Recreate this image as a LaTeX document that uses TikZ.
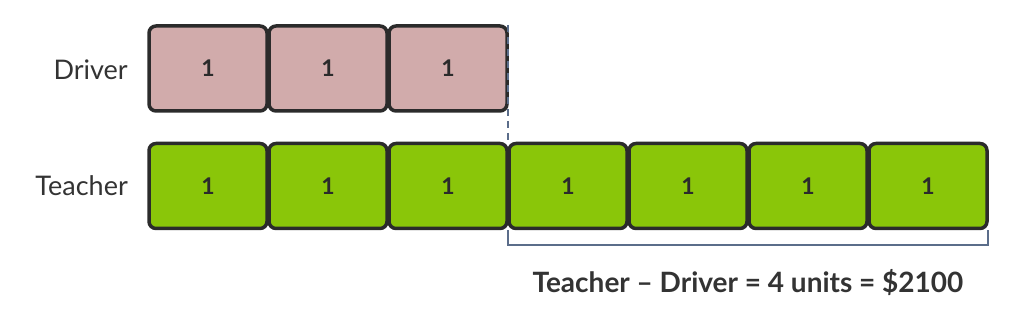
\documentclass[tikz,border=0pt]{standalone}
\usepackage{fontspec}
\setmainfont{Lato}
\begin{document}
\begin{tikzpicture}[x=1pt,y=-1pt,
  unitbox/.style={draw=boxline,line width=3.5pt,rounded corners=7pt,minimum width=118pt,minimum height=85pt,inner sep=0pt,font=\fontsize{23}{24}\selectfont\bfseries,text=boxline},
  drv/.style={unitbox,fill=drvfill},
  tch/.style={unitbox,fill=tchfill},
  rowlabel/.style={anchor=east,font=\fontsize{27}{30}\selectfont,text=labtext,inner sep=0pt},
  guide/.style={draw=guidecol,line width=2pt}]
\definecolor{boxline}{HTML}{2B2B2B}
\definecolor{drvfill}{HTML}{D1ABAB}
\definecolor{tchfill}{HTML}{8AC609}
\definecolor{labtext}{HTML}{333333}
\definecolor{guidecol}{HTML}{5B6D8A}
\useasboundingbox (0,0) rectangle (1014,320);
\node[rowlabel] (dl) at (128,70) {Driver};
\node[rowlabel] (tl) at (128,186) {Teacher};
\foreach \i in {1,2,3}{
  \node[drv] (d\i) at ({148+120*(\i-1)+60},68.5) {1};
}
\coordinate (dtop) at (508,25);
\coordinate (tjoin) at (508,142);
\draw[guide,dash pattern=on 7pt off 5pt] (dtop) -- (tjoin);
\foreach \i in {1,...,7}{
  \node[tch] (t\i) at ({148+120*(\i-1)+60},186) {1};
}
\coordinate (bl) at (508,230);
\coordinate (br) at (988,230);
\draw[guide] (bl) -- ++(0,15) -| (br);
\node[font=\fontsize{28}{30}\selectfont\bfseries,text=labtext] (eq) at (748,283) {Teacher – Driver = 4 units = \$2100};
\end{tikzpicture}
\end{document}
